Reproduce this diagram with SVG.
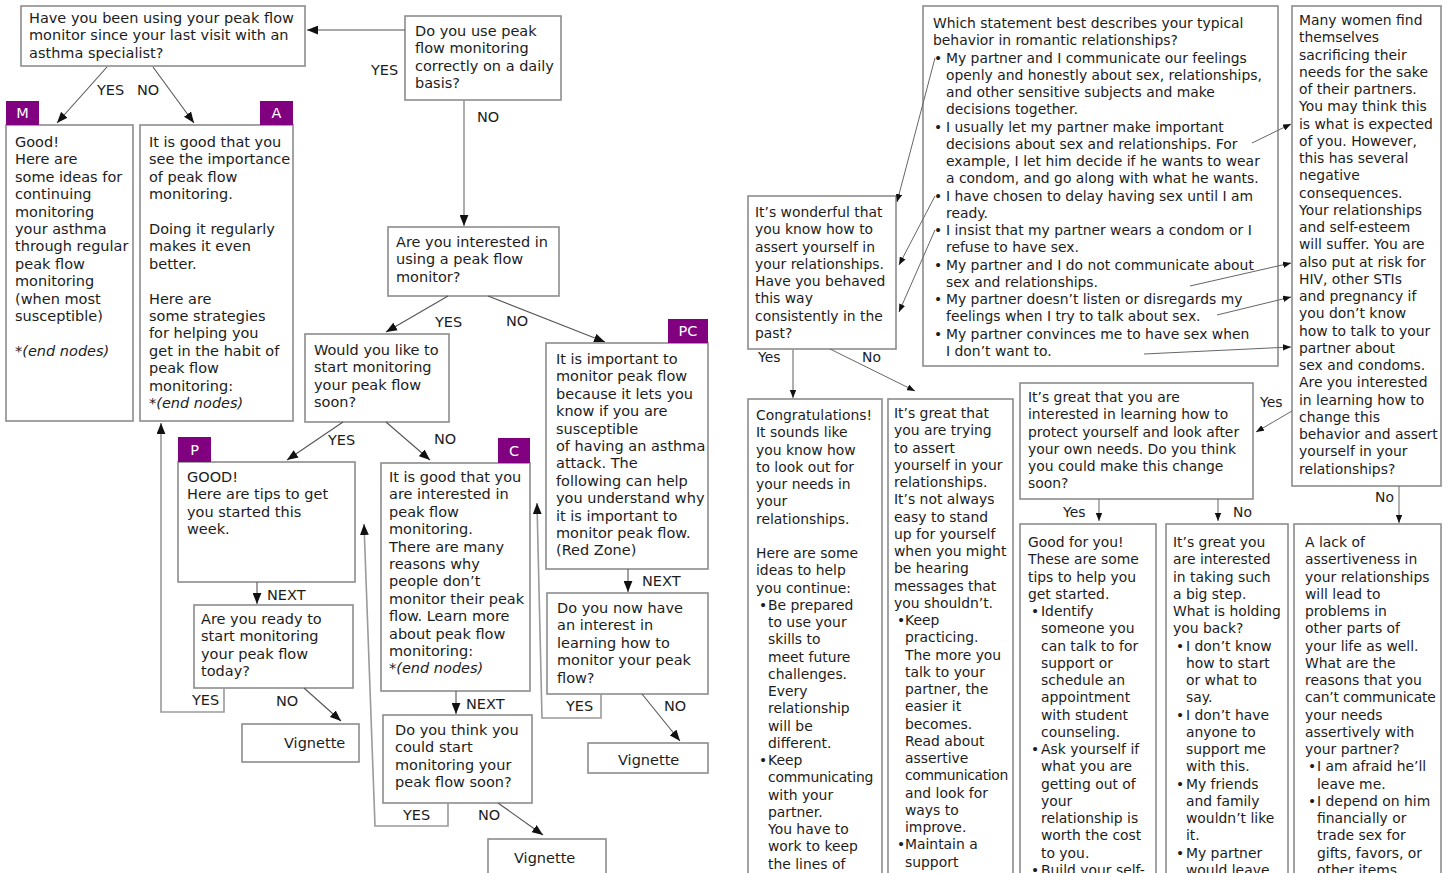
<svg xmlns="http://www.w3.org/2000/svg" width="1450" height="873" viewBox="0 0 1450 873">
<defs>
<style>
.b{fill:#fff;stroke:#8c8c8c;stroke-width:1.6}
.tag{fill:#800080}
.tt{font-family:"DejaVu Sans",Verdana,sans-serif;font-size:14.5px;fill:#fff;text-anchor:middle}
.t{font-family:"DejaVu Sans",Verdana,sans-serif;font-size:14.5px;fill:#1c1c1c}
.r{font-family:"DejaVu Sans",Verdana,sans-serif;font-size:13.9px;fill:#1c1c1c}
.i{font-style:italic}
.c{fill:none;stroke:#555;stroke-width:1.1}
.cg{fill:none;stroke:#9a9a9a;stroke-width:1.6}
.cr{fill:none;stroke:#666;stroke-width:1}
</style>
<marker id="a1" viewBox="0 0 10 8" refX="10" refY="4" markerWidth="11" markerHeight="9" markerUnits="userSpaceOnUse" orient="auto"><path d="M0,0 L10,4 L0,8 z" fill="#111"/></marker>
<marker id="a2" viewBox="0 0 10 8" refX="10" refY="4" markerWidth="8" markerHeight="6.5" markerUnits="userSpaceOnUse" orient="auto"><path d="M0,0 L10,4 L0,8 z" fill="#111"/></marker>
</defs>
<rect width="1450" height="873" fill="#fff"/>

<!-- LEFT FLOWCHART -->
<g id="q-using-monitor">
<rect class="b" x="21" y="6" width="284" height="60"/>
<text class="t" y="23"><tspan x="29">Have you been using your peak flow</tspan><tspan x="29" dy="17.4">monitor since your last visit with an</tspan><tspan x="29" dy="17.4">asthma specialist?</tspan></text>
</g>
<g id="q-daily">
<rect class="b" x="405" y="16" width="156" height="84"/>
<text class="t" y="36"><tspan x="415">Do you use peak</tspan><tspan x="415" dy="17.4">flow monitoring</tspan><tspan x="415" dy="17.4">correctly on a daily</tspan><tspan x="415" dy="17.4">basis?</tspan></text>
</g>
<g id="q-interested">
<rect class="b" x="388" y="227" width="171" height="69"/>
<text class="t" y="247"><tspan x="396">Are you interested in</tspan><tspan x="396" dy="17.4">using a peak flow</tspan><tspan x="396" dy="17.4">monitor?</tspan></text>
</g>
<g id="node-M">
<rect class="b" x="6" y="125" width="127" height="296"/>
<rect class="tag" x="6" y="101" width="33" height="24"/>
<text class="tt" x="22.5" y="118">M</text>
<text class="t" y="147"><tspan x="15">Good!</tspan><tspan x="15" dy="17.4">Here are</tspan><tspan x="15" dy="17.4">some ideas for</tspan><tspan x="15" dy="17.4">continuing</tspan><tspan x="15" dy="17.4">monitoring</tspan><tspan x="15" dy="17.4">your asthma</tspan><tspan x="15" dy="17.4">through regular</tspan><tspan x="15" dy="17.4">peak flow</tspan><tspan x="15" dy="17.4">monitoring</tspan><tspan x="15" dy="17.4">(when most</tspan><tspan x="15" dy="17.4">susceptible)</tspan><tspan x="15" dy="34.8" class="i">*(end nodes)</tspan></text>
</g>
<g id="node-A">
<rect class="b" x="140" y="125" width="153" height="296"/>
<rect class="tag" x="260" y="101" width="33" height="24"/>
<text class="tt" x="276.5" y="118">A</text>
<text class="t" y="147"><tspan x="149">It is good that you</tspan><tspan x="149" dy="17.4">see the importance</tspan><tspan x="149" dy="17.4">of peak flow</tspan><tspan x="149" dy="17.4">monitoring.</tspan><tspan x="149" dy="34.8">Doing it regularly</tspan><tspan x="149" dy="17.4">makes it even</tspan><tspan x="149" dy="17.4">better.</tspan><tspan x="149" dy="34.8">Here are</tspan><tspan x="149" dy="17.4">some strategies</tspan><tspan x="149" dy="17.4">for helping you</tspan><tspan x="149" dy="17.4">get in the habit of</tspan><tspan x="149" dy="17.4">peak flow</tspan><tspan x="149" dy="17.4">monitoring:</tspan><tspan x="149" dy="17.4" class="i">*(end nodes)</tspan></text>
</g>
<g id="q-start-soon">
<rect class="b" x="305" y="334" width="144" height="88"/>
<text class="t" y="355"><tspan x="314">Would you like to</tspan><tspan x="314" dy="17.4">start monitoring</tspan><tspan x="314" dy="17.4">your peak flow</tspan><tspan x="314" dy="17.4">soon?</tspan></text>
</g>
<g id="node-PC">
<rect class="b" x="546" y="343" width="162" height="226"/>
<rect class="tag" x="668" y="319" width="40" height="24"/>
<text class="tt" x="688" y="336">PC</text>
<text class="t" y="364"><tspan x="556">It is important to</tspan><tspan x="556" dy="17.4">monitor peak flow</tspan><tspan x="556" dy="17.4">because it lets you</tspan><tspan x="556" dy="17.4">know if you are</tspan><tspan x="556" dy="17.4">susceptible</tspan><tspan x="556" dy="17.4">of having an asthma</tspan><tspan x="556" dy="17.4">attack. The</tspan><tspan x="556" dy="17.4">following can help</tspan><tspan x="556" dy="17.4">you understand why</tspan><tspan x="556" dy="17.4">it is important to</tspan><tspan x="556" dy="17.4">monitor peak flow.</tspan><tspan x="556" dy="17.4">(Red Zone)</tspan></text>
</g>
<g id="node-P">
<rect class="b" x="178" y="462" width="177" height="120"/>
<rect class="tag" x="178" y="437" width="33" height="25"/>
<text class="tt" x="194.5" y="455">P</text>
<text class="t" y="482"><tspan x="187">GOOD!</tspan><tspan x="187" dy="17.4">Here are tips to get</tspan><tspan x="187" dy="17.4">you started this</tspan><tspan x="187" dy="17.4">week.</tspan></text>
</g>
<g id="node-C">
<rect class="b" x="381" y="463" width="149" height="228"/>
<rect class="tag" x="498" y="438" width="32" height="25"/>
<text class="tt" x="514" y="456">C</text>
<text class="t" y="482"><tspan x="389">It is good that you</tspan><tspan x="389" dy="17.4">are interested in</tspan><tspan x="389" dy="17.4">peak flow</tspan><tspan x="389" dy="17.4">monitoring.</tspan><tspan x="389" dy="17.4">There are many</tspan><tspan x="389" dy="17.4">reasons why</tspan><tspan x="389" dy="17.4">people don’t</tspan><tspan x="389" dy="17.4">monitor their peak</tspan><tspan x="389" dy="17.4">flow. Learn more</tspan><tspan x="389" dy="17.4">about peak flow</tspan><tspan x="389" dy="17.4">monitoring:</tspan><tspan x="389" dy="17.4" class="i">*(end nodes)</tspan></text>
</g>
<g id="q-ready-today">
<rect class="b" x="194" y="605" width="159" height="83"/>
<text class="t" y="624"><tspan x="201">Are you ready to</tspan><tspan x="201" dy="17.4">start monitoring</tspan><tspan x="201" dy="17.4">your peak flow</tspan><tspan x="201" dy="17.4">today?</tspan></text>
</g>
<g id="q-think-soon">
<rect class="b" x="383" y="715" width="149" height="88"/>
<text class="t" y="735"><tspan x="395">Do you think you</tspan><tspan x="395" dy="17.4">could start</tspan><tspan x="395" dy="17.4">monitoring your</tspan><tspan x="395" dy="17.4">peak flow soon?</tspan></text>
</g>
<g id="q-now-interest">
<rect class="b" x="547" y="593" width="161" height="101"/>
<text class="t" y="613"><tspan x="557">Do you now have</tspan><tspan x="557" dy="17.4">an interest in</tspan><tspan x="557" dy="17.4">learning how to</tspan><tspan x="557" dy="17.4">monitor your peak</tspan><tspan x="557" dy="17.4">flow?</tspan></text>
</g>
<g id="vignette-1">
<rect class="b" x="242" y="724" width="117" height="38"/>
<text class="t" x="284" y="748">Vignette</text>
</g>
<g id="vignette-2">
<rect class="b" x="588" y="743" width="120" height="30"/>
<text class="t" x="618" y="765">Vignette</text>
</g>
<g id="vignette-3">
<rect class="b" x="488" y="839" width="118" height="44"/>
<text class="t" x="514" y="863">Vignette</text>
</g>

<!-- RIGHT FLOWCHART -->
<g id="q-statement">
<rect class="b" x="923" y="6" width="355" height="360"/>
<text class="r" y="28"><tspan x="933">Which statement best describes your typical</tspan><tspan x="933" dy="17.25">behavior in romantic relationships?</tspan><tspan x="934" dy="17.25">•</tspan><tspan x="946">My partner and I communicate our feelings</tspan><tspan x="946" dy="17.25">openly and honestly about sex, relationships,</tspan><tspan x="946" dy="17.25">and other sensitive subjects and make</tspan><tspan x="946" dy="17.25">decisions together.</tspan><tspan x="934" dy="17.25">•</tspan><tspan x="946">I usually let my partner make important</tspan><tspan x="946" dy="17.25">decisions about sex and relationships. For</tspan><tspan x="946" dy="17.25">example, I let him decide if he wants to wear</tspan><tspan x="946" dy="17.25">a condom, and go along with what he wants.</tspan><tspan x="934" dy="17.25">•</tspan><tspan x="946">I have chosen to delay having sex until I am</tspan><tspan x="946" dy="17.25">ready.</tspan><tspan x="934" dy="17.25">•</tspan><tspan x="946">I insist that my partner wears a condom or I</tspan><tspan x="946" dy="17.25">refuse to have sex.</tspan><tspan x="934" dy="17.25">•</tspan><tspan x="946">My partner and I do not communicate about</tspan><tspan x="946" dy="17.25">sex and relationships.</tspan><tspan x="934" dy="17.25">•</tspan><tspan x="946">My partner doesn’t listen or disregards my</tspan><tspan x="946" dy="17.25">feelings when I try to talk about sex.</tspan><tspan x="934" dy="17.25">•</tspan><tspan x="946">My partner convinces me to have sex when</tspan><tspan x="946" dy="17.25">I don’t want to.</tspan></text>
</g>
<g id="q-wonderful">
<rect class="b" x="748" y="196" width="148" height="153"/>
<text class="r" y="217"><tspan x="755">It’s wonderful that</tspan><tspan x="755" dy="17.25">you know how to</tspan><tspan x="755" dy="17.25">assert yourself in</tspan><tspan x="755" dy="17.25">your relationships.</tspan><tspan x="755" dy="17.25">Have you behaved</tspan><tspan x="755" dy="17.25">this way</tspan><tspan x="755" dy="17.25">consistently in the</tspan><tspan x="755" dy="17.25">past?</tspan></text>
</g>
<g id="q-many-women">
<rect class="b" x="1292" y="6" width="149" height="480"/>
<text class="r" y="25"><tspan x="1299">Many women find</tspan><tspan x="1299" dy="17.25">themselves</tspan><tspan x="1299" dy="17.25">sacrificing their</tspan><tspan x="1299" dy="17.25">needs for the sake</tspan><tspan x="1299" dy="17.25">of their partners.</tspan><tspan x="1299" dy="17.25">You may think this</tspan><tspan x="1299" dy="17.25">is what is expected</tspan><tspan x="1299" dy="17.25">of you. However,</tspan><tspan x="1299" dy="17.25">this has several</tspan><tspan x="1299" dy="17.25">negative</tspan><tspan x="1299" dy="17.25">consequences.</tspan><tspan x="1299" dy="17.25">Your relationships</tspan><tspan x="1299" dy="17.25">and self-esteem</tspan><tspan x="1299" dy="17.25">will suffer. You are</tspan><tspan x="1299" dy="17.25">also put at risk for</tspan><tspan x="1299" dy="17.25">HIV, other STIs</tspan><tspan x="1299" dy="17.25">and pregnancy if</tspan><tspan x="1299" dy="17.25">you don’t know</tspan><tspan x="1299" dy="17.25">how to talk to your</tspan><tspan x="1299" dy="17.25">partner about</tspan><tspan x="1299" dy="17.25">sex and condoms.</tspan><tspan x="1299" dy="17.25">Are you interested</tspan><tspan x="1299" dy="17.25">in learning how to</tspan><tspan x="1299" dy="17.25">change this</tspan><tspan x="1299" dy="17.25">behavior and assert</tspan><tspan x="1299" dy="17.25">yourself in your</tspan><tspan x="1299" dy="17.25">relationships?</tspan></text>
</g>
<g id="node-congratulations">
<rect class="b" x="748" y="399" width="134" height="490"/>
<text class="r" y="420"><tspan x="756">Congratulations!</tspan><tspan x="756" dy="17.25">It sounds like</tspan><tspan x="756" dy="17.25">you know how</tspan><tspan x="756" dy="17.25">to look out for</tspan><tspan x="756" dy="17.25">your needs in</tspan><tspan x="756" dy="17.25">your</tspan><tspan x="756" dy="17.25">relationships.</tspan><tspan x="756" dy="34.5">Here are some</tspan><tspan x="756" dy="17.25">ideas to help</tspan><tspan x="756" dy="17.25">you continue:</tspan><tspan x="759" dy="17.25">•</tspan><tspan x="768">Be prepared</tspan><tspan x="768" dy="17.25">to use your</tspan><tspan x="768" dy="17.25">skills to</tspan><tspan x="768" dy="17.25">meet future</tspan><tspan x="768" dy="17.25">challenges.</tspan><tspan x="768" dy="17.25">Every</tspan><tspan x="768" dy="17.25">relationship</tspan><tspan x="768" dy="17.25">will be</tspan><tspan x="768" dy="17.25">different.</tspan><tspan x="759" dy="17.25">•</tspan><tspan x="768">Keep</tspan><tspan x="768" dy="17.25" letter-spacing="-0.2">communicating</tspan><tspan x="768" dy="17.25">with your</tspan><tspan x="768" dy="17.25">partner.</tspan><tspan x="768" dy="17.25">You have to</tspan><tspan x="768" dy="17.25">work to keep</tspan><tspan x="768" dy="17.25">the lines of</tspan></text>
</g>
<g id="node-trying">
<rect class="b" x="888" y="399" width="125" height="490"/>
<text class="r" y="418"><tspan x="894">It’s great that</tspan><tspan x="894" dy="17.25">you are trying</tspan><tspan x="894" dy="17.25">to assert</tspan><tspan x="894" dy="17.25">yourself in your</tspan><tspan x="894" dy="17.25">relationships.</tspan><tspan x="894" dy="17.25">It’s not always</tspan><tspan x="894" dy="17.25">easy to stand</tspan><tspan x="894" dy="17.25">up for yourself</tspan><tspan x="894" dy="17.25">when you might</tspan><tspan x="894" dy="17.25">be hearing</tspan><tspan x="894" dy="17.25">messages that</tspan><tspan x="894" dy="17.25">you shouldn’t.</tspan><tspan x="897" dy="17.25">•</tspan><tspan x="905">Keep</tspan><tspan x="905" dy="17.25">practicing.</tspan><tspan x="905" dy="17.25">The more you</tspan><tspan x="905" dy="17.25">talk to your</tspan><tspan x="905" dy="17.25">partner, the</tspan><tspan x="905" dy="17.25">easier it</tspan><tspan x="905" dy="17.25">becomes.</tspan><tspan x="905" dy="17.25">Read about</tspan><tspan x="905" dy="17.25">assertive</tspan><tspan x="905" dy="17.25" letter-spacing="-0.35">communication</tspan><tspan x="905" dy="17.25">and look for</tspan><tspan x="905" dy="17.25">ways to</tspan><tspan x="905" dy="17.25">improve.</tspan><tspan x="897" dy="17.25">•</tspan><tspan x="905">Maintain a</tspan><tspan x="905" dy="17.25">support</tspan></text>
</g>
<g id="q-change-soon">
<rect class="b" x="1020" y="383" width="233" height="116"/>
<text class="r" y="402"><tspan x="1028">It’s great that you are</tspan><tspan x="1028" dy="17.25">interested in learning how to</tspan><tspan x="1028" dy="17.25">protect yourself and look after</tspan><tspan x="1028" dy="17.25">your own needs. Do you think</tspan><tspan x="1028" dy="17.25">you could make this change</tspan><tspan x="1028" dy="17.25">soon?</tspan></text>
</g>
<g id="node-good-for-you">
<rect class="b" x="1020" y="524" width="136" height="360"/>
<text class="r" y="547"><tspan x="1028">Good for you!</tspan><tspan x="1028" dy="17.25">These are some</tspan><tspan x="1028" dy="17.25">tips to help you</tspan><tspan x="1028" dy="17.25">get started.</tspan><tspan x="1031" dy="17.25">•</tspan><tspan x="1041">Identify</tspan><tspan x="1041" dy="17.25">someone you</tspan><tspan x="1041" dy="17.25">can talk to for</tspan><tspan x="1041" dy="17.25">support or</tspan><tspan x="1041" dy="17.25">schedule an</tspan><tspan x="1041" dy="17.25">appointment</tspan><tspan x="1041" dy="17.25">with student</tspan><tspan x="1041" dy="17.25">counseling.</tspan><tspan x="1031" dy="17.25">•</tspan><tspan x="1041">Ask yourself if</tspan><tspan x="1041" dy="17.25">what you are</tspan><tspan x="1041" dy="17.25">getting out of</tspan><tspan x="1041" dy="17.25">your</tspan><tspan x="1041" dy="17.25">relationship is</tspan><tspan x="1041" dy="17.25">worth the cost</tspan><tspan x="1041" dy="17.25">to you.</tspan><tspan x="1031" dy="17.25">•</tspan><tspan x="1041">Build your self-</tspan></text>
</g>
<g id="node-holding-back">
<rect class="b" x="1166" y="524" width="122" height="360"/>
<text class="r" y="547"><tspan x="1173">It’s great you</tspan><tspan x="1173" dy="17.25">are interested</tspan><tspan x="1173" dy="17.25">in taking such</tspan><tspan x="1173" dy="17.25">a big step.</tspan><tspan x="1173" dy="17.25">What is holding</tspan><tspan x="1173" dy="17.25">you back?</tspan><tspan x="1176" dy="17.25">•</tspan><tspan x="1186">I don’t know</tspan><tspan x="1186" dy="17.25">how to start</tspan><tspan x="1186" dy="17.25">or what to</tspan><tspan x="1186" dy="17.25">say.</tspan><tspan x="1176" dy="17.25">•</tspan><tspan x="1186">I don’t have</tspan><tspan x="1186" dy="17.25">anyone to</tspan><tspan x="1186" dy="17.25">support me</tspan><tspan x="1186" dy="17.25">with this.</tspan><tspan x="1176" dy="17.25">•</tspan><tspan x="1186">My friends</tspan><tspan x="1186" dy="17.25">and family</tspan><tspan x="1186" dy="17.25">wouldn’t like</tspan><tspan x="1186" dy="17.25">it.</tspan><tspan x="1176" dy="17.25">•</tspan><tspan x="1186">My partner</tspan><tspan x="1186" dy="17.25">would leave</tspan></text>
</g>
<g id="node-lack">
<rect class="b" x="1294" y="524" width="147" height="360"/>
<text class="r" y="547"><tspan x="1305">A lack of</tspan><tspan x="1305" dy="17.25">assertiveness in</tspan><tspan x="1305" dy="17.25">your relationships</tspan><tspan x="1305" dy="17.25">will lead to</tspan><tspan x="1305" dy="17.25">problems in</tspan><tspan x="1305" dy="17.25">other parts of</tspan><tspan x="1305" dy="17.25">your life as well.</tspan><tspan x="1305" dy="17.25">What are the</tspan><tspan x="1305" dy="17.25">reasons that you</tspan><tspan x="1305" dy="17.25" letter-spacing="-0.2">can’t communicate</tspan><tspan x="1305" dy="17.25">your needs</tspan><tspan x="1305" dy="17.25">assertively with</tspan><tspan x="1305" dy="17.25">your partner?</tspan><tspan x="1308" dy="17.25">•</tspan><tspan x="1317">I am afraid he’ll</tspan><tspan x="1317" dy="17.25">leave me.</tspan><tspan x="1308" dy="17.25">•</tspan><tspan x="1317">I depend on him</tspan><tspan x="1317" dy="17.25">financially or</tspan><tspan x="1317" dy="17.25">trade sex for</tspan><tspan x="1317" dy="17.25">gifts, favors, or</tspan><tspan x="1317" dy="17.25">other items.</tspan></text>
</g>

<g id="connectors">
<path class="c" d="M405,30 L307,30" marker-end="url(#a1)"/>
<path class="c" d="M107,67 L57,123" marker-end="url(#a1)"/>
<path class="c" d="M153,67 L194,123" marker-end="url(#a1)"/>
<path class="cg" d="M464,100 L464,226" marker-end="url(#a1)"/>
<path class="c" d="M448,296 L386,332" marker-end="url(#a1)"/>
<path class="c" d="M488,296 L605,342" marker-end="url(#a1)"/>
<path class="c" d="M343,422 L287,460" marker-end="url(#a1)"/>
<path class="c" d="M386,422 L430,460" marker-end="url(#a1)"/>
<path class="c" d="M257,582 L257,604" marker-end="url(#a1)"/>
<path class="c" d="M456,691 L456,714" marker-end="url(#a1)"/>
<path class="c" d="M628,569 L628,592" marker-end="url(#a1)"/>
<path class="cg" d="M224,688 L224,712 L161,712 L161,423" marker-end="url(#a1)"/>
<path class="c" d="M304,688 L341,721" marker-end="url(#a1)"/>
<path class="cg" d="M448,803 L448,826 L375,826 L364,524" marker-end="url(#a1)"/>
<path class="c" d="M498,803 L543,835" marker-end="url(#a1)"/>
<path class="cg" d="M601,694 L601,718 L542,718 L537,503" marker-end="url(#a1)"/>
<path class="c" d="M642,694 L680,741" marker-end="url(#a1)"/>

<path class="cr" d="M935,58 L897,202" marker-end="url(#a2)"/>
<path class="cr" d="M935,196 L899,265" marker-end="url(#a2)"/>
<path class="cr" d="M935,230 L899,312" marker-end="url(#a2)"/>
<path class="cr" d="M1252,143 L1291,124" marker-end="url(#a2)"/>
<path class="cr" d="M1190,286 L1291,263" marker-end="url(#a2)"/>
<path class="cr" d="M1217,315 L1291,297" marker-end="url(#a2)"/>
<path class="cr" d="M1144,354 L1291,347" marker-end="url(#a2)"/>
<path class="cg" d="M793,349 L793,398" marker-end="url(#a2)"/>
<path class="cr" d="M830,349 L915,391" marker-end="url(#a2)"/>
<path class="cr" d="M1292,411 L1256,432" marker-end="url(#a2)"/>
<path class="cr" d="M1099,499 L1099,521" marker-end="url(#a2)"/>
<path class="cr" d="M1218,499 L1218,521" marker-end="url(#a2)"/>
<path class="cr" d="M1399,486 L1399,523" marker-end="url(#a2)"/>

<g class="t">
<text x="97" y="95">YES</text><text x="137" y="95">NO</text>
<text x="371" y="75">YES</text><text x="477" y="122">NO</text>
<text x="435" y="327">YES</text><text x="506" y="326">NO</text>
<text x="328" y="445">YES</text><text x="434" y="444">NO</text>
<text x="267" y="600">NEXT</text><text x="466" y="709">NEXT</text><text x="642" y="586">NEXT</text>
<text x="192" y="705">YES</text><text x="276" y="706">NO</text>
<text x="403" y="820">YES</text><text x="478" y="820">NO</text>
<text x="566" y="711">YES</text><text x="664" y="711">NO</text>
</g>
<g class="r">
<text x="758" y="362">Yes</text><text x="862" y="362">No</text>
<text x="1260" y="407">Yes</text>
<text x="1063" y="517">Yes</text><text x="1233" y="517">No</text>
<text x="1375" y="502">No</text>
</g>
</g>
</svg>
